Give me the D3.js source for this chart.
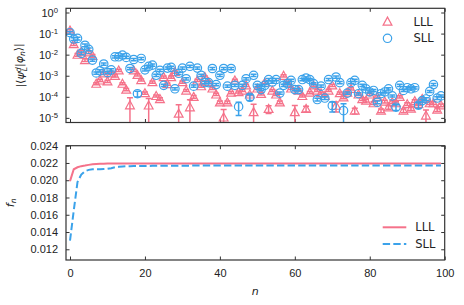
<!DOCTYPE html>
<html>
<head>
<meta charset="utf-8">
<script src="https://cdn.jsdelivr.net/npm/d3@7"></script>
<style>
  body { margin: 0; background: #fff; }
  svg { font-family: "DejaVu Sans", sans-serif; }
</style>
</head>
<body>
<script>
// n = 0 .. 99
const nValues = d3.range(0, 100);

// |<psi_L^d | phi_n>| for the two bases
const lllOverlap = [
  1.4e-1, 3.2e-2, 1.0e-2, 1.4e-2, 5.6e-3, 1.3e-2, 8.9e-3, 4.2e-4, 6.0e-4, 1.3e-3,
  5.4e-4, 1.3e-3, 1.0e-3, 1.8e-3, 4.2e-4, 2.2e-4, 4.0e-5, 1.8e-3, 1.1e-3, 6.3e-4,
  1.5e-4, 3.9e-5, 5.0e-4, 1.1e-4, 7.9e-5, 8.7e-4, 4.0e-4, 8.7e-4, 1.5e-3, 1.6e-5,
  5.0e-4, 2.0e-4, 3.2e-5, 1.0e-4, 6.0e-4, 3.2e-4, 8.7e-4, 5.0e-4, 2.5e-4, 1.3e-4,
  5.5e-5, 1.05e-5, 5.5e-5, 1.6e-4, 6.0e-4, 1.7e-4, 2.0e-4, 3.5e-4, 1.3e-4, 1.9e-5,
  2.5e-4, 1.4e-4, 4.7e-4, 2.7e-5, 2.0e-4, 1.3e-4, 5.5e-5, 1.0e-3, 4.7e-4, 2.5e-4,
  1.9e-5, 2.0e-4, 1.1e-4, 2.7e-5, 1.6e-4, 3.5e-4, 2.0e-4, 1.5e-4, 1.1e-4, 2.0e-4,
  3.5e-4, 3.8e-5, 1.5e-4, 9.5e-5, 1.6e-4, 2.4e-4, 2.2e-5, 1.3e-4, 7.9e-5, 6.6e-5,
  1.3e-4, 5.0e-5, 1.0e-4, 2.2e-5, 6.0e-5, 3.2e-5, 5.6e-5, 5.0e-5, 1.0e-4, 2.2e-5,
  4.5e-5, 2.8e-5, 6.3e-5, 4.5e-5, 7.9e-5, 1.3e-5, 5.0e-5, 5.0e-5, 2.5e-5, 4.0e-5
];
const sllOverlap = [
  1.1e-1, 5.5e-2, 5.9e-2, 1.15e-2, 2.8e-2, 1.8e-2, 5.5e-3, 1.35e-3, 1.7e-3, 3.6e-3,
  1.4e-3, 1.9e-3, 7.9e-3, 7.9e-3, 9.5e-3, 7.4e-3, 2.2e-3, 5.9e-3, 1.4e-4, 6.6e-3,
  1.9e-3, 2.8e-3, 3.2e-3, 1.05e-3, 1.8e-3, 3.5e-4, 2.3e-3, 2.5e-3, 2.4e-4, 1.3e-3,
  2.3e-3, 7.2e-4, 2.8e-3, 3.2e-4, 2.3e-3, 1.05e-3, 4.7e-4, 4.7e-4, 2.2e-3, 3.8e-4,
  1.05e-3, 2.2e-3, 3.2e-4, 2.2e-3, 3.5e-4, 3.4e-5, 3.5e-4, 7.2e-4, 9.5e-5, 1.05e-3,
  3.5e-4, 2.2e-4, 3.5e-4, 6.6e-4, 5.0e-4, 6.6e-4, 1.5e-4, 3.5e-4, 4.2e-4, 6.0e-4,
  2.2e-4, 2.2e-4, 6.6e-4, 7.8e-4, 6.6e-4, 4.2e-4, 7.4e-5, 3.2e-4, 8.7e-5, 6.6e-4,
  3.8e-5, 8.7e-4, 4.7e-4, 2.2e-5, 1.5e-4, 4.7e-4, 6.0e-4, 1.4e-4, 3.5e-4, 2.4e-4,
  1.7e-4, 2.0e-4, 5.5e-5, 1.4e-4, 1.7e-4, 2.4e-4, 1.1e-4, 3.2e-5, 3.5e-4, 2.0e-4,
  2.7e-4, 2.4e-4, 2.7e-4, 4.0e-5, 6.6e-5, 7.9e-5, 1.8e-4, 3.8e-4, 8.7e-5, 1.1e-4
];

// error bars, relative to the value
const lllRelErr = [
  0.15, 0.15, 0.15, 0.15, 0.15, 0.15, 0.15, 0.12, 0.12, 0.12,
  0.12, 0.12, 0.12, 0.12, 0.12, 0.12, 1.25, 0.12, 0.12, 0.12,
  0.12, 1.15, 0.12, 0.12, 0.15, 0.12, 0.12, 0.12, 0.12, 1.6,
  0.12, 0.12, 1.25, 0.15, 0.12, 0.12, 0.12, 0.12, 0.12, 0.12,
  0.15, 1.4, 0.15, 0.12, 0.12, 0.12, 0.12, 0.12, 0.12, 1.3,
  0.12, 0.12, 0.12, 0.4, 0.12, 0.12, 0.15, 0.12, 0.12, 0.12,
  1.05, 0.12, 0.12, 0.3, 0.12, 0.12, 0.12, 0.12, 0.12, 0.12,
  0.12, 0.5, 0.12, 0.15, 0.12, 0.12, 0.3, 0.12, 0.15, 0.15,
  0.12, 0.15, 0.12, 0.2, 0.15, 0.2, 0.15, 0.15, 0.12, 0.2,
  0.15, 0.2, 0.15, 0.15, 0.15, 0.8, 0.15, 0.15, 0.2, 0.15
];
const sllRelErr = [
  0.15, 0.15, 0.15, 0.15, 0.15, 0.15, 0.12, 0.12, 0.12, 0.12,
  0.12, 0.12, 0.12, 0.12, 0.12, 0.12, 0.12, 0.12, 0.3, 0.12,
  0.12, 0.12, 0.12, 0.12, 0.12, 0.12, 0.12, 0.12, 0.12, 0.12,
  0.12, 0.12, 0.12, 0.12, 0.12, 0.12, 0.12, 0.12, 0.12, 0.12,
  0.12, 0.12, 0.12, 0.12, 0.12, 0.62, 0.12, 0.12, 0.3, 0.12,
  0.12, 0.12, 0.12, 0.12, 0.12, 0.12, 0.12, 0.12, 0.12, 0.12,
  0.12, 0.12, 0.12, 0.12, 0.12, 0.12, 0.15, 0.12, 0.15, 0.12,
  0.5, 0.12, 0.12, 1.15, 0.12, 0.12, 0.12, 0.12, 0.12, 0.12,
  0.12, 0.12, 0.15, 0.12, 0.12, 0.12, 0.12, 0.3, 0.12, 0.12,
  0.12, 0.12, 0.12, 0.3, 0.15, 0.15, 0.12, 0.12, 0.15, 0.12
];

// f_n
const lllF = [
  0.0199, 0.02127, 0.0215, 0.02163, 0.0217, 0.02178, 0.02185, 0.02188, 0.0219, 0.02192,
  0.02193, 0.02193, 0.02194, 0.02194, 0.02194, 0.02194, 0.02194, 0.02194, 0.02194, 0.02194,
  0.02194, 0.02194, 0.02194, 0.02194, 0.02194, 0.02194, 0.02194, 0.02194, 0.02194, 0.02194,
  0.02194, 0.02194, 0.02194, 0.02194, 0.02194, 0.02194, 0.02194, 0.02194, 0.02194, 0.02194,
  0.02194, 0.02194, 0.02194, 0.02194, 0.02194, 0.02194, 0.02194, 0.02194, 0.02194, 0.02194,
  0.02194, 0.02194, 0.02194, 0.02194, 0.02194, 0.02194, 0.02194, 0.02194, 0.02194, 0.02194,
  0.02194, 0.02194, 0.02194, 0.02194, 0.02194, 0.02194, 0.02194, 0.02194, 0.02194, 0.02194,
  0.02194, 0.02194, 0.02194, 0.02194, 0.02194, 0.02194, 0.02194, 0.02194, 0.02194, 0.02194,
  0.02194, 0.02194, 0.02194, 0.02194, 0.02194, 0.02194, 0.02194, 0.02194, 0.02194, 0.02194,
  0.02194, 0.02194, 0.02194, 0.02194, 0.02194, 0.02194, 0.02194, 0.02194, 0.02194, 0.02194
];
const sllF = [
  0.0130, 0.0165, 0.0198, 0.02065, 0.02105, 0.0212, 0.02127, 0.02128, 0.02128, 0.0213,
  0.02132, 0.0214, 0.0215, 0.02155, 0.0216, 0.02162, 0.02163, 0.02164, 0.02165, 0.02165,
  0.02166, 0.02166, 0.02167, 0.02167, 0.02167, 0.02168, 0.02168, 0.02168, 0.02168, 0.02169,
  0.02169, 0.02169, 0.02169, 0.0217, 0.0217, 0.0217, 0.0217, 0.0217, 0.0217, 0.0217,
  0.0217, 0.0217, 0.0217, 0.0217, 0.0217, 0.0217, 0.0217, 0.0217, 0.0217, 0.0217,
  0.0217, 0.0217, 0.0217, 0.0217, 0.0217, 0.0217, 0.0217, 0.0217, 0.0217, 0.0217,
  0.0217, 0.0217, 0.0217, 0.0217, 0.0217, 0.0217, 0.0217, 0.0217, 0.0217, 0.0217,
  0.0217, 0.0217, 0.0217, 0.0217, 0.0217, 0.0217, 0.0217, 0.0217, 0.0217, 0.0217,
  0.0217, 0.0217, 0.0217, 0.0217, 0.0217, 0.0217, 0.0217, 0.0217, 0.0217, 0.0217,
  0.0217, 0.0217, 0.0217, 0.0217, 0.0217, 0.0217, 0.0217, 0.0217, 0.0217, 0.0217
];

const seriesNames = ['LLL', 'SLL'];
const xTicks = [0, 20, 40, 60, 80, 100];
const logTicks = [1, 1e-1, 1e-2, 1e-3, 1e-4, 1e-5];
const fTicks = [0.012, 0.014, 0.016, 0.018, 0.020, 0.022, 0.024];

const pink = '#f5728a';
const blue = '#3ba2ea';
const axisColor = '#333';

const svg = d3.select('body').append('svg')
  .attr('width', 464)
  .attr('height', 305);

// panel geometry
const left = 66, right = 444.7;
const topPanel = { y0: 8.3, y1: 122.5 };
const botPanel = { y0: 145.7, y1: 260 };

const x = d3.scaleLinear().domain([-1.07, 100]).range([left, right]);
const yLog = d3.scaleLog().domain([Math.pow(10, -5.22), Math.pow(10, 0.2)]).range([topPanel.y1, topPanel.y0]);
const yF = d3.scaleLinear().domain([0.01076, 0.024]).range([botPanel.y1, botPanel.y0]);

const tick = 3.5;

function styleAxis(g) {
  g.select('.domain').remove();
  g.selectAll('.tick line').attr('stroke', axisColor).attr('stroke-width', 1);
  g.selectAll('.tick text').attr('fill', '#222').attr('font-size', 11);
}

// ---------- top panel ----------
svg.append('defs').append('clipPath').attr('id', 'clipTop')
  .append('rect')
  .attr('x', left).attr('y', topPanel.y0)
  .attr('width', right - left).attr('height', topPanel.y1 - topPanel.y0);

svg.append('g').attr('transform', `translate(0,${topPanel.y1})`)
  .call(d3.axisBottom(x).tickValues(xTicks).tickSize(-tick).tickFormat(''))
  .call(styleAxis);
svg.append('g').attr('transform', `translate(0,${topPanel.y0})`)
  .call(d3.axisTop(x).tickValues(xTicks).tickSize(-tick).tickFormat(''))
  .call(styleAxis);
svg.append('g').attr('transform', `translate(${right},0)`)
  .call(d3.axisRight(yLog).tickValues(logTicks).tickSize(-tick).tickFormat(''))
  .call(styleAxis);
const yLeftTop = svg.append('g').attr('transform', `translate(${left},0)`)
  .call(d3.axisLeft(yLog).tickValues(logTicks).tickSize(-tick).tickPadding(8))
  .call(styleAxis);
yLeftTop.selectAll('.tick text').each(function(d) {
  const t = d3.select(this);
  t.text('10');
  t.append('tspan')
    .attr('dy', '-0.45em')
    .attr('font-size', '0.7em')
    .text(String(Math.round(Math.log10(d))));
});

const triPath = 'M0,-4.4L4.4,3.6L-4.4,3.6Z';

function drawScatter(values, relErr, color, shape) {
  const g = svg.append('g').attr('clip-path', 'url(#clipTop)');
  const pts = nValues.map((n, i) => ({ n, v: values[i], e: values[i] * relErr[i] }));
  const [ymin] = yLog.domain();
  pts.forEach(p => {
    const yTop = yLog(p.v + p.e);
    const lo = p.v - p.e;
    const yBot = lo > ymin * 0.5 ? yLog(lo) : topPanel.y1 + 10;
    const cx = x(p.n);
    g.append('line').attr('x1', cx).attr('x2', cx).attr('y1', yTop).attr('y2', yBot)
      .attr('stroke', color).attr('stroke-width', 1.5);
    [yTop, yBot].forEach(yy => {
      g.append('line').attr('x1', cx - 3).attr('x2', cx + 3).attr('y1', yy).attr('y2', yy)
        .attr('stroke', color).attr('stroke-width', 1.5);
    });
  });
  pts.forEach(p => {
    if (shape === 'tri') {
      g.append('path').attr('d', triPath)
        .attr('transform', `translate(${x(p.n)},${yLog(p.v)})`)
        .attr('fill', 'none').attr('stroke', color).attr('stroke-width', 1.2);
    } else {
      g.append('circle').attr('cx', x(p.n)).attr('cy', yLog(p.v)).attr('r', 4.2)
        .attr('fill', 'none').attr('stroke', color).attr('stroke-width', 1.2);
    }
  });
}
drawScatter(lllOverlap, lllRelErr, pink, 'tri');
drawScatter(sllOverlap, sllRelErr, blue, 'circ');

svg.append('rect')
  .attr('x', left).attr('y', topPanel.y0)
  .attr('width', right - left).attr('height', topPanel.y1 - topPanel.y0)
  .attr('fill', 'none').attr('stroke', axisColor).attr('stroke-width', 1.2);

// top legend
const legTop = svg.append('g');
legTop.append('path').attr('d', triPath).attr('transform', 'translate(387.5,21.5)')
  .attr('fill', 'none').attr('stroke', pink).attr('stroke-width', 1.2);
legTop.append('circle').attr('cx', 387.5).attr('cy', 38.3).attr('r', 4.2)
  .attr('fill', 'none').attr('stroke', blue).attr('stroke-width', 1.2);
legTop.selectAll('text').data(seriesNames).enter().append('text')
  .attr('x', 413.5).attr('y', (d, i) => 21.5 + i * 16.8).attr('dy', '0.36em')
  .attr('font-size', 11.5).attr('fill', '#222').text(d => d);

// top y label
const yl1 = svg.append('text')
  .attr('transform', `translate(24,${(topPanel.y0 + topPanel.y1) / 2}) rotate(-90)`)
  .attr('text-anchor', 'middle').attr('font-size', 11).attr('fill', '#222');
yl1.append('tspan').text('|⟨');
yl1.append('tspan').attr('font-style', 'italic').text('ψ');
yl1.append('tspan').attr('font-style', 'italic').attr('font-size', '0.7em').attr('dy', '-0.45em').text('d');
yl1.append('tspan').attr('font-style', 'italic').attr('font-size', '0.7em').attr('dx', '-0.5em').attr('dy', '0.85em').text('L');
yl1.append('tspan').attr('dy', '-0.4em').text('|');
yl1.append('tspan').attr('font-style', 'italic').text('φ');
yl1.append('tspan').attr('font-style', 'italic').attr('font-size', '0.7em').attr('dy', '0.3em').text('n');
yl1.append('tspan').attr('dy', '-0.3em').text('⟩|');

// ---------- bottom panel ----------
svg.append('g').attr('transform', `translate(0,${botPanel.y1})`)
  .call(d3.axisBottom(x).tickValues(xTicks).tickSize(-tick).tickPadding(9))
  .call(styleAxis);
svg.append('g').attr('transform', `translate(0,${botPanel.y0})`)
  .call(d3.axisTop(x).tickValues(xTicks).tickSize(-tick).tickFormat(''))
  .call(styleAxis);
svg.append('g').attr('transform', `translate(${left},0)`)
  .call(d3.axisLeft(yF).tickValues(fTicks).tickSize(-tick).tickPadding(8).tickFormat(d3.format('.3f')))
  .call(styleAxis);
svg.append('g').attr('transform', `translate(${right},0)`)
  .call(d3.axisRight(yF).tickValues(fTicks).tickSize(-tick).tickFormat(''))
  .call(styleAxis);

const line = d3.line().x((d, i) => x(nValues[i])).y(d => yF(d));
svg.append('path').datum(lllF).attr('d', line)
  .attr('fill', 'none').attr('stroke', pink).attr('stroke-width', 2);
svg.append('path').datum(sllF).attr('d', line)
  .attr('fill', 'none').attr('stroke', blue).attr('stroke-width', 2)
  .attr('stroke-dasharray', '7.4,3.2');

svg.append('rect')
  .attr('x', left).attr('y', botPanel.y0)
  .attr('width', right - left).attr('height', botPanel.y1 - botPanel.y0)
  .attr('fill', 'none').attr('stroke', axisColor).attr('stroke-width', 1.2);

// bottom legend
const legBot = svg.append('g');
seriesNames.forEach((name, i) => {
  const yy = 227.3 + i * 16.7;
  legBot.append('line').attr('x1', 382.7).attr('x2', 406.3).attr('y1', yy).attr('y2', yy)
    .attr('stroke', i === 0 ? pink : blue).attr('stroke-width', 2)
    .attr('stroke-dasharray', i === 0 ? null : '7.4,3.2');
  legBot.append('text').attr('x', 415.3).attr('y', yy).attr('dy', '0.36em')
    .attr('font-size', 11.5).attr('fill', '#222').text(name);
});

// bottom labels
const yl2 = svg.append('text')
  .attr('transform', `translate(14,${(botPanel.y0 + botPanel.y1) / 2}) rotate(-90)`)
  .attr('text-anchor', 'middle').attr('font-size', 11).attr('fill', '#222');
yl2.append('tspan').attr('font-style', 'italic').text('f');
yl2.append('tspan').attr('font-style', 'italic').attr('font-size', '0.7em').attr('dy', '0.3em').text('n');

svg.append('text').attr('x', (left + right) / 2).attr('y', 295)
  .attr('text-anchor', 'middle').attr('font-size', 11).attr('font-style', 'italic')
  .attr('fill', '#222').text('n');
</script>
</body>
</html>
